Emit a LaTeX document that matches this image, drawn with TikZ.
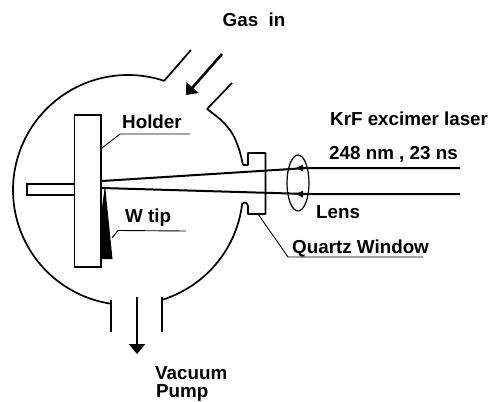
\documentclass[tikz,border=0pt]{standalone}
\usepackage{fontspec}
\setmainfont{Liberation Sans}
\usetikzlibrary{arrows.meta,shapes.geometric}
\tikzset{
  wall/.style={line width=1.7pt,line join=round},
  thinpart/.style={line width=1.2pt,line join=miter},
  leader/.style={line width=0.9pt},
  beam/.style={line width=2pt},
  flow/.style={line width=2.6pt,-{Triangle[length=10pt,width=16pt]}},
  lbl/.style={anchor=base west,inner sep=0pt,font=\bfseries\fontsize{18.8}{21}\selectfont}
}
\begin{document}
\begin{tikzpicture}[x=1pt,y=-1pt]
\useasboundingbox (0,0) rectangle (491,402);
% chamber
\draw[wall,smooth,samples=80,domain=-261.2:-71.7,variable=\a] plot ({128+115*cos(\a)},{190+115*sin(\a)});
\draw[wall,smooth,samples=40,domain=6.4:72.4,variable=\a] plot ({128+115*cos(\a)},{190+115*sin(\a)});
\draw[wall] plot[smooth] coordinates {(207,109) (221,120) (232,133) (239,149) (243,165)};
\coordinate (gl0) at (164,81); \coordinate (gl1) at (191,50);
\coordinate (gr0) at (207,109); \coordinate (gr1) at (232,83);
\draw[wall] (gl0) -- (gl1);
\draw[wall] (gr0) -- (gr1);
\coordinate (vl0) at (111,300); \coordinate (vl1) at (111,332);
\coordinate (vr0) at (162,297); \coordinate (vr1) at (162,332);
\draw[wall] (vl0) -- (vl1);
\draw[wall] (vr0) -- (vr1);
% window
\draw[wall] (243,165) -- (248,165) -- (248,153) -- (265.5,153) -- (265.5,214) -- (248,214) -- (248,206) .. controls (247,203) and (245,201) .. (243,203);
% holder and stem
\draw[thinpart,fill=white] (27,184) rectangle (74.5,195);
\draw[thinpart,fill=white] (74.5,115) rectangle (101,267);
% tip
\fill[black] (105,185) -- (112.5,259) -- (101,259) -- (101,215) -- cycle;
% beams
\coordinate (bu0) at (102,181); \coordinate (bu1) at (307,168); \coordinate (bu2) at (460,168);
\coordinate (bl0) at (102,188); \coordinate (bl1) at (307,194); \coordinate (bl2) at (460,194);
\draw[beam] (bu0) -- (bu1) -- (bu2);
\draw[beam] (bl0) -- (bl1) -- (bl2);
\fill (296,168) -- (303,164.5) -- (303,171.5) -- cycle;
\fill (296,194) -- (303,190.5) -- (303,197.5) -- cycle;
% lens
\node[draw,line width=1.2pt,ellipse,minimum width=22pt,minimum height=56pt,inner sep=0pt] (lens) at (298,183) {};
% flows
\coordinate (ga) at (222,54); \coordinate (gb) at (186,95);
\draw[flow] (ga) -- (gb);
\coordinate (va) at (137,297); \coordinate (vb) at (137,354);
\draw[flow] (va) -- (vb);
% labels
\node[lbl] (gas) at (222.5,26) {Gas\ \ in};
\node[lbl] (holder) at (122,128) {Holder};
\node[lbl] (wtip) at (125,222) {W tip};
\node[lbl] (krf) at (330,125) {KrF excimer laser};
\node[lbl] (nm) at (329,159) {248 nm , 23 ns};
\node[lbl] (lenslbl) at (316,218) {Lens};
\node[lbl] (quartz) at (292,253) {Quartz Window};
\node[lbl] (vac) at (155,379) {Vacuum};
\node[lbl] (pump) at (156,397.5) {Pump};
% leaders
\coordinate (h0) at (102,148); \coordinate (h1) at (120,134); \coordinate (h2) at (190,134);
\draw[leader] (h0) -- (h1) -- (h2);
\coordinate (w0) at (112,238); \coordinate (w1) at (118,230.5); \coordinate (w2) at (186,231);
\draw[leader] (w0) -- (w1) -- (w2);
\coordinate (q0) at (258,214); \coordinate (q1) at (288,257); \coordinate (q2) at (423,257);
\draw[leader] (q0) -- (q1) -- (q2);
\end{tikzpicture}
\end{document}
